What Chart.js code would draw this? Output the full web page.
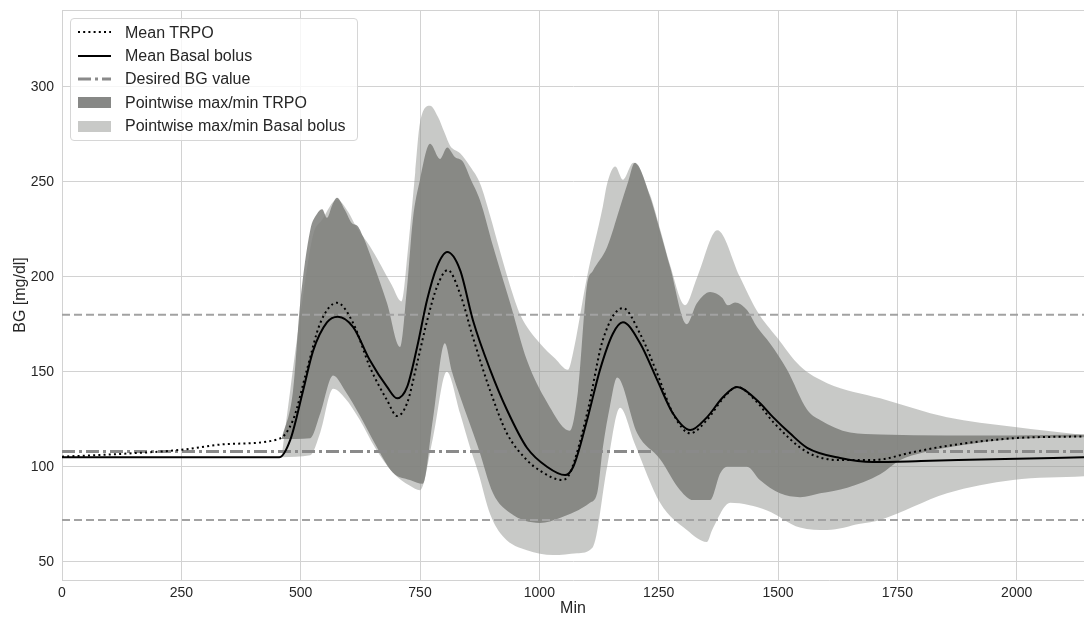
<!DOCTYPE html>
<html>
<head>
<meta charset="utf-8">
<script src="https://cdn.jsdelivr.net/npm/chart.js@4.4.0/dist/chart.umd.min.js"></script>
<style>
  body { margin: 0; background: #fff; }
  #wrap { position: relative; width: 1084px; height: 618px; }
  #legend {
    position: absolute; left: 70px; top: 18px; width: 286px; height: 121px;
    border: 1px solid #d6d6d6; border-radius: 4px; background: rgba(255,255,255,0.8);
    font: 16px "Liberation Sans", Arial, sans-serif; color: #262626;
  }
  .row { position: absolute; left: 6px; height: 20px; display: flex; align-items: center; white-space: nowrap; }
  .row svg { margin-right: 13px; }
</style>
</head>
<body>
<div id="wrap">
  <canvas id="chart" width="1084" height="618"></canvas>
  <div id="legend"></div>
</div>
<script>
// mean curves (minutes, mg/dl)
const trpoX = [0, 140, 245, 349, 454, 484, 513, 541, 576, 610, 645, 681, 702, 723, 744, 765, 786, 808, 834, 861, 897, 932, 974, 1001, 1048, 1064, 1100, 1133, 1175, 1211, 1247, 1280, 1316, 1351, 1385, 1414, 1456, 1490, 1561, 1630, 1699, 1783, 1854, 1992, 2141];
const trpoY = [105.3, 107, 108.8, 112, 114.6, 124.6, 151, 175.6, 186.3, 175.6, 152.5, 135, 126.7, 133.5, 154.6, 177, 195, 203.5, 191, 168, 140, 117.6, 103.5, 98, 93, 96.7, 128, 166.7, 183.5, 170, 149, 128, 117.6, 124.6, 136, 142, 134, 123.5, 107.7, 103.5, 103.5, 107.7, 111, 115, 116];

const basalX = [0, 455, 478, 505, 526, 555, 578, 610, 645, 681, 702, 723, 744, 765, 785, 807, 834, 861, 897, 932, 974, 1016, 1054, 1071, 1100, 1127, 1154, 1175, 1211, 1247, 1280, 1316, 1351, 1385, 1414, 1456, 1490, 1525, 1561, 1630, 1699, 1800, 1950, 2141];
const basalY = [105, 105, 114, 140, 161, 176, 179, 173.5, 156, 142, 136, 142, 163, 188, 205, 213, 203.5, 177, 151, 130, 110, 100, 95.6, 100, 124.6, 151, 170, 176, 165, 145.6, 128, 119.3, 126, 136.7, 142, 135, 126, 117.6, 110, 104.6, 102.5, 103, 104, 105];

// pointwise max/min envelopes
const trpoMaxX = [460, 484, 499, 520, 534, 545, 555, 566, 576, 593, 608, 618, 631, 652, 681, 708, 723, 735, 750, 771, 792, 807, 823, 840, 855, 876, 903, 939, 974, 1016, 1064, 1081, 1100, 1112, 1142, 1169, 1186, 1200, 1232, 1253, 1274, 1309, 1330, 1358, 1383, 1395, 1410, 1435, 1456, 1483, 1519, 1561, 1588, 1651, 1714, 1854, 1992, 2141];
const trpoMaxY = [114.6, 140, 186, 224.5, 233, 235.5, 231, 237.7, 241.6, 235, 228, 227, 221, 207, 186, 163, 195, 230, 251, 270, 262, 268, 263, 260.5, 252, 240, 216, 186, 156, 134, 119, 140, 196, 203, 215.6, 236.6, 250, 260, 242, 224, 205, 175, 186, 192, 189, 185, 186.5, 182.5, 173.5, 165, 151, 130, 124.6, 118, 117, 116.5, 116.5, 117];

const trpoMinX = [460, 520, 541, 568, 593, 624, 656, 693, 729, 756, 777, 802, 817, 834, 872, 903, 939, 1001, 1043, 1106, 1121, 1133, 1148, 1163, 1205, 1253, 1295, 1322, 1358, 1379, 1393, 1435, 1462, 1504, 1546, 1588, 1645, 1714, 1756, 1804, 1888, 1992, 2141];
const trpoMinY = [114.6, 115, 128, 148, 140, 127, 112, 97, 93, 91, 125, 165, 150, 137, 110, 86, 75.6, 70.4, 73, 81, 86, 110, 132, 147, 117.6, 104, 87.7, 82.5, 82.5, 96.6, 100, 100, 93, 86, 84, 86, 89, 96, 103.5, 107.5, 111.5, 114.5, 115.5];

const basalMaxX = [460, 478, 505, 526, 545, 576, 600, 617, 645, 690, 711, 725, 740, 750, 771, 788, 801, 813, 834, 855, 876, 897, 918, 939, 960, 1001, 1033, 1060, 1069, 1100, 1133, 1142, 1159, 1175, 1197, 1232, 1253, 1274, 1305, 1331, 1373, 1420, 1456, 1498, 1546, 1603, 1714, 1854, 1992, 2141];
const basalMaxY = [105, 140, 190, 222, 230, 240.5, 234, 226, 216, 196, 187, 215, 255, 281, 290, 284, 276, 269, 265, 258, 249, 232, 213, 195, 180, 165, 157, 151, 158, 200, 237, 249, 258, 251, 260, 243, 225, 206, 185, 200, 224.5, 200, 182, 168, 153, 144, 136, 126, 121, 116.7];

const basalMinX = [460, 520, 541, 568, 593, 624, 656, 693, 729, 750, 777, 806, 834, 855, 872, 897, 925, 974, 1029, 1079, 1112, 1142, 1169, 1200, 1253, 1309, 1351, 1362, 1400, 1477, 1546, 1603, 1672, 1714, 1854, 1992, 2141];
const basalMinY = [105, 106, 118, 141, 136, 124.6, 110, 97, 90, 87.7, 115, 150, 128, 110, 97, 75, 63, 56, 53.5, 54.5, 57.7, 100, 131, 112, 81, 66.7, 60.4, 66.7, 81, 77, 68, 66.7, 70, 72, 86, 93, 95];

// reference levels
const desiredBG = 108;
const bgLow = 72;
const bgHigh = 180;

const xMax = 2141;
const xTicks = [0, 250, 500, 750, 1000, 1250, 1500, 1750, 2000];
const yTicks = [50, 100, 150, 200, 250, 300];

const labels = ["Mean TRPO", "Mean Basal bolus", "Desired BG value", "Pointwise max/min TRPO", "Pointwise max/min Basal bolus"];

const pts = (xs, ys) => xs.map((x, i) => ({ x: x, y: ys[i] }));
const flat = (v) => [{ x: 0, y: v }, { x: xMax, y: v }];

const FONT = '"Liberation Sans", Arial, sans-serif';
const TXT = '#262626';
const GRID = '#d2d2d2';
const LIGHT = 'rgba(145,147,143,0.5)';
const DARK = 'rgba(124,126,122,0.85)';

const frameLine = {
  id: 'frameLine',
  beforeDatasetsDraw(chart) {
    const a = chart.chartArea, ctx = chart.ctx;
    ctx.save();
    ctx.strokeStyle = GRID;
    ctx.lineWidth = 1;
    ctx.beginPath();
    ctx.moveTo(a.left, a.top + 0.5);
    ctx.lineTo(a.right, a.top + 0.5);
    ctx.stroke();
    ctx.restore();
  }
};

const lineBase = { pointRadius: 0, fill: false, cubicInterpolationMode: 'monotone' };

let chart = new Chart(document.getElementById('chart'), {
  type: 'line',
  data: {
    datasets: [
      { ...lineBase, label: labels[0], data: pts(trpoX, trpoY), borderColor: '#000', borderWidth: 2, borderDash: [2, 3.2], order: 0 },
      { ...lineBase, label: labels[1], data: pts(basalX, basalY), borderColor: '#000', borderWidth: 2, order: 0 },
      { ...lineBase, label: labels[2], data: flat(desiredBG), borderColor: '#8a8a8a', borderWidth: 3, borderDash: [13, 4, 3, 4], order: 1 },
      { ...lineBase, label: 'high', data: flat(bgHigh), borderColor: '#a2a2a2', borderWidth: 2, borderDash: [8, 4], order: 2 },
      { ...lineBase, label: 'low', data: flat(bgLow), borderColor: '#a2a2a2', borderWidth: 2, borderDash: [8, 4], order: 2 },
      { ...lineBase, label: labels[3], data: pts(trpoMaxX, trpoMaxY), borderWidth: 0, backgroundColor: DARK, fill: '+1', order: 3 },
      { ...lineBase, label: 'trpoMin', data: pts(trpoMinX, trpoMinY), borderWidth: 0, order: 3 },
      { ...lineBase, label: labels[4], data: pts(basalMaxX, basalMaxY), borderWidth: 0, backgroundColor: LIGHT, fill: '+1', order: 4 },
      { ...lineBase, label: 'basalMin', data: pts(basalMinX, basalMinY), borderWidth: 0, order: 4 }
    ]
  },
  options: {
    responsive: false,
    animation: false,
    devicePixelRatio: 1,
    parsing: false,
    layout: { padding: { top: 10, right: 0, left: 0, bottom: 0 } },
    plugins: { legend: { display: false }, tooltip: { enabled: false } },
    scales: {
      x: {
        type: 'linear', min: 0, max: xMax,
        afterBuildTicks: (s) => { s.ticks = xTicks.map(v => ({ value: v })); },
        afterFit: (s) => { s.height = 38; s.paddingLeft = 0; s.paddingRight = 0; },
        ticks: { font: { family: FONT, size: 14 }, color: TXT, padding: 5, maxRotation: 0, callback: (v) => String(v) },
        grid: { color: GRID, lineWidth: 1, drawTicks: false },
        border: { color: GRID },
        title: { display: true, text: 'Min', font: { family: FONT, size: 16 }, color: TXT, padding: 0 }
      },
      y: {
        type: 'linear', min: 40.4, max: 340.4,
        afterBuildTicks: (s) => { s.ticks = yTicks.map(v => ({ value: v })); },
        afterFit: (s) => { s.width = 62; s.paddingTop = 0; s.paddingBottom = 0; },
        ticks: { font: { family: FONT, size: 14 }, color: TXT, padding: 8, callback: (v) => String(v) },
        grid: { color: GRID, lineWidth: 1, drawTicks: false },
        border: { color: GRID },
        title: { display: true, text: 'BG [mg/dl]', font: { family: FONT, size: 16 }, color: TXT, padding: { top: 11, bottom: 0 } }
      }
    }
  },
  plugins: [frameLine]
});

// legend box drawn as html over the chart area
const samples = [
  '<line x1="1" y1="6" x2="34" y2="6" stroke="#000" stroke-width="2" stroke-dasharray="2,3.2"/>',
  '<line x1="1" y1="6" x2="34" y2="6" stroke="#000" stroke-width="2"/>',
  '<line x1="1" y1="6" x2="34" y2="6" stroke="#8a8a8a" stroke-width="3" stroke-dasharray="13,4,3,4"/>',
  '<rect x="1" y="1" width="33" height="11" fill="#878886"/>',
  '<rect x="1" y="1" width="33" height="11" fill="#c8c9c7"/>'
];
const rowCentres = [13.7, 37, 60.3, 83.7, 107];
let legend = document.getElementById('legend');
labels.forEach((name, i) => {
  let row = document.createElement('div');
  row.className = 'row';
  row.style.top = (rowCentres[i] - 10) + 'px';
  row.innerHTML = '<svg width="35" height="13">' + samples[i] + '</svg><span>' + name + '</span>';
  legend.appendChild(row);
});
</script>
</body>
</html>
